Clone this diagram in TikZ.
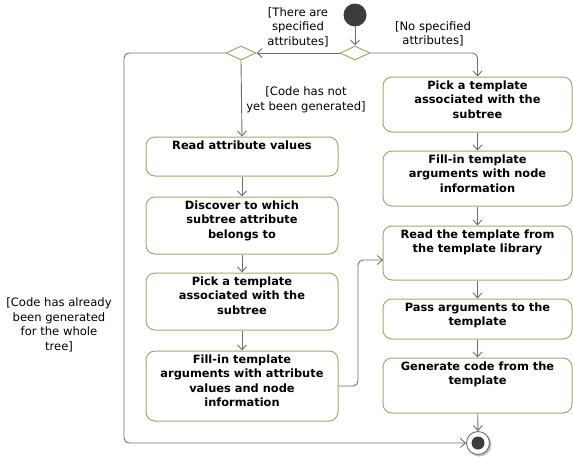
\documentclass[tikz,border=0pt]{standalone}
\usepackage{fontspec}
\setmainfont{DejaVu Sans}
\usetikzlibrary{arrows.meta,shapes.geometric,calc}
\definecolor{boxline}{RGB}{168,166,104}
\definecolor{conn}{RGB}{110,110,110}
\definecolor{initc}{RGB}{60,60,60}
\begin{document}
\begin{tikzpicture}[x=1pt,y=-1pt,
  actbox/.style={draw=boxline,line width=1pt,fill=white,rounded corners=9pt,inner sep=0pt},
  acttext/.style={anchor=north,align=center,font=\fontsize{11.4}{14.5}\selectfont\bfseries,inner sep=0pt},
  guard/.style={align=center,font=\fontsize{11.6}{14.5}\selectfont,inner sep=0pt},
  decision/.style={draw=boxline,line width=1pt,fill=white,diamond,minimum width=30pt,minimum height=14pt,inner sep=0pt},
  flow/.style={draw=conn,line width=0.9pt,-{Straight Barb[length=5pt,width=9pt]},rounded corners=5pt}
]
\useasboundingbox (0,0) rectangle (573,456);

% action boxes
\newcommand{\actbox}[6]{%
  \node[actbox,minimum width={#4-#2},minimum height={#5-#3}] (#1) at ({(#2+#4)/2},{(#3+#5)/2}) {};
  \node[acttext] at ($(#1.north)+(0,4)$) {#6};}
\actbox{L1}{146}{137}{338}{176}{Read attribute values}
\actbox{L2}{146}{197}{338}{254}{Discover to which\\subtree attribute\\belongs to}
\actbox{L3}{146}{273}{338}{330}{Pick a template\\associated with the\\subtree}
\actbox{L4}{146}{351}{338}{421}{Fill-in template\\arguments with attribute\\values and node\\information}
\actbox{R1}{383}{77}{572}{132}{Pick a template\\associated with the\\subtree}
\actbox{R2}{383}{151}{572}{206}{Fill-in template\\arguments with node\\information}
\actbox{R3}{383}{226}{572}{280}{Read the template from\\the template library}
\actbox{R4}{383}{299}{572}{339}{Pass arguments to the\\template}
\actbox{R5}{383}{358}{572}{413}{Generate code from the\\template}

% control nodes
\node[circle,fill=initc,minimum size=23pt,inner sep=0pt] (init) at (355,15) {};
\node[decision] (d1) at (355,53) {};
\node[decision] (d2) at (241,53) {};
\fill[black!25] (479.5,444.5) circle (12pt);
\node[circle,draw=conn,line width=0.9pt,fill=white,minimum size=23pt,inner sep=0pt] (final) at (478,443) {};
\fill[initc] (final.center) circle (6.5pt);

\coordinate (cl) at (124,53);
\coordinate (cb) at (124,443);
\coordinate (cr) at (477.5,53);
\coordinate (jx1) at (358,386);
\coordinate (jx2) at (358,260);
\coordinate (jx3) at (383,260);

% connectors
\draw[flow] (init) -- (d1);
\draw[flow] (d1.west) -- (d2.east);
\draw[flow] (d1.east) -- (cr) -- (R1.north);
\draw[flow] (d2.south) -- (L1.north);
\draw[flow] (d2.west) -- (cl) -- (cb) -- (final.west);
\draw[flow] (L1) -- (L2);
\draw[flow] (L2) -- (L3);
\draw[flow] (L3) -- (L4);
\draw[flow] (L4.east |- jx1) -- (jx1) -- (jx2) -- (jx3);
\draw[flow] (R1) -- (R2);
\draw[flow] (R2) -- (R3);
\draw[flow] (R3) -- (R4);
\draw[flow] (R4) -- (R5);
\draw[flow] (R5) -- (final);

% guards
\node[guard] (g1) at (298,27) {[There are\\specified\\attributes]};
\node[guard] (g2) at (433,34) {[No specified\\attributes]};
\node[guard] (g3) at (306,100) {[Code has not\\yet been generated]};
\node[guard] (g4) at (59,325) {[Code has already\\been generated\\for the whole\\tree]};
\end{tikzpicture}
\end{document}
